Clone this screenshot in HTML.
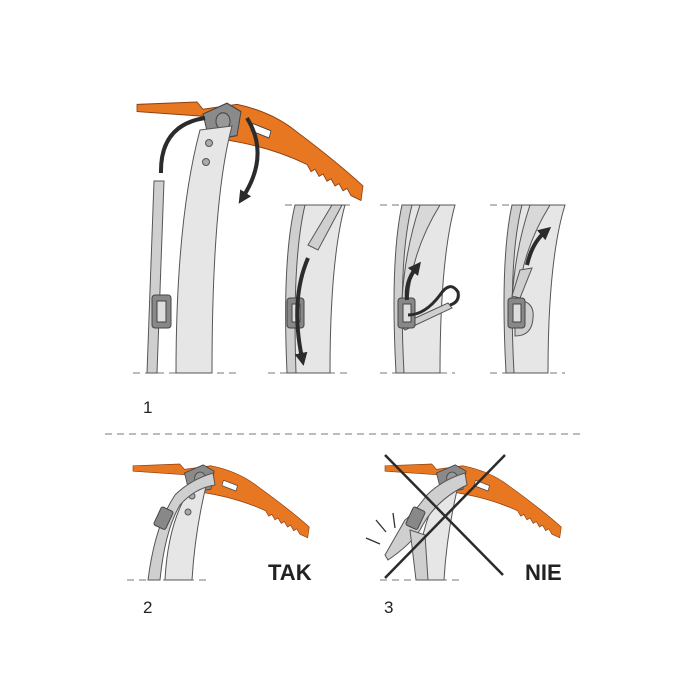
<!DOCTYPE html>
<html><head><style>body{margin:0;background:#fff}svg{display:block}</style></head><body>
<svg width="700" height="700" viewBox="0 0 700 700" xmlns="http://www.w3.org/2000/svg" font-family="Liberation Sans, sans-serif">
<defs>
<marker id="ah" markerWidth="13" markerHeight="13" refX="5" refY="6.5" orient="auto" markerUnits="userSpaceOnUse"><path d="M0,0 L13,6.5 L0,13 Z" fill="#2b2b2b"/></marker>
<g id="axe">
<path d="M0,2 L60,0 L66,6 L100,2 Q135,8 160,25 Q200,50 226,70 L224,82 L214,78 L210,72 L206,74 L202,68 L198,70 L194,64 L190,66 L186,60 L182,62 L178,56 L174,58 L170,52 Q140,40 105,34 L80,30 L68,12 L0,8 Z" fill="#e87722" stroke="#8a3e10" stroke-width="0.8"/>
<path d="M66,10 L90,1 L104,8 L100,28 L80,31 L70,24 Z" fill="#8a8a8a" stroke="#444" stroke-width="1"/>
<circle cx="86" cy="16" r="7" fill="#999" stroke="#444"/>
<path d="M116,18 L134,24 L132,30 L114,24 Z" fill="#fff" stroke="#444" stroke-width="0.8"/>
</g>
</defs>
<g stroke="#777" stroke-width="1" stroke-dasharray="7,5" fill="none">
<line x1="133" y1="373" x2="240" y2="373"/>
<line x1="268" y1="373" x2="348" y2="373"/>
<line x1="380" y1="373" x2="455" y2="373"/>
<line x1="490" y1="373" x2="565" y2="373"/>
<line x1="285" y1="205" x2="350" y2="205"/>
<line x1="380" y1="205" x2="455" y2="205"/>
<line x1="490" y1="205" x2="565" y2="205"/>
<line x1="105" y1="434" x2="585" y2="434"/>
<line x1="127" y1="580" x2="210" y2="580"/>
<line x1="380" y1="580" x2="460" y2="580"/>
</g>
<!-- panel 1 main -->
<use href="#axe" transform="translate(137,102) scale(1.0,1.2)"/>
<path d="M200,130 L232,126 Q212,200 212,373 L176,373 Q176,220 200,130 Z" fill="#e6e6e6" stroke="#555" stroke-width="1"/>
<circle cx="209" cy="143" r="3.5" fill="#aaa" stroke="#555"/><circle cx="206" cy="162" r="3.5" fill="#aaa" stroke="#555"/>
<path d="M154,181 L164,181 L157,373 L147,373 Z" fill="#cfcfcf" stroke="#555"/>
<rect x="152" y="295" width="19" height="33" rx="3" fill="#888" stroke="#444"/><rect x="157" y="301" width="9" height="21" fill="#ddd" stroke="#444"/>
<path d="M161,173 Q160,125 205,118" fill="none" stroke="#2b2b2b" stroke-width="4"/>
<path d="M247,118 Q270,155 243,197" fill="none" stroke="#2b2b2b" stroke-width="4" marker-end="url(#ah)"/>
<!-- sub-panels -->
<g>
<path d="M300,205 L345,205 Q330,260 330,373 L290,373 Q288,270 300,205 Z" fill="#e6e6e6" stroke="#555"/>
<path d="M295,205 L305,205 Q292,260 296,373 L287,373 Q282,260 295,205 Z" fill="#cfcfcf" stroke="#555"/>
<path d="M332,205 L342,205 L318,250 L308,245 Z" fill="#cfcfcf" stroke="#555"/>
<rect x="287" y="298" width="17" height="30" rx="3" fill="#888" stroke="#444"/><rect x="292" y="304" width="8" height="18" fill="#ddd" stroke="#444"/>
<path d="M308,258 Q290,300 302,358" fill="none" stroke="#2b2b2b" stroke-width="4" marker-end="url(#ah)"/>
</g>
<g>
<path d="M405,205 L455,205 Q440,260 440,373 L398,373 Q395,270 405,205 Z" fill="#e6e6e6" stroke="#555"/>
<path d="M402,205 L412,205 Q398,260 404,373 L396,373 Q390,260 402,205 Z" fill="#cfcfcf" stroke="#555"/>
<path d="M420,205 L440,205 Q412,250 408,300 L402,300 Q405,250 420,205 Z" fill="#d8d8d8" stroke="#555"/>
<path d="M400,325 L448,303 L452,308 L405,330 Z" fill="#cfcfcf" stroke="#555"/>
<rect x="398" y="298" width="17" height="30" rx="3" fill="#888" stroke="#444"/><rect x="403" y="304" width="8" height="18" fill="#ddd" stroke="#444"/>
<path d="M408,315 Q425,315 440,295 Q450,280 458,292 Q460,302 450,305" fill="none" stroke="#2b2b2b" stroke-width="3"/>
<path d="M407,300 Q405,282 416,268" fill="none" stroke="#2b2b2b" stroke-width="4" marker-end="url(#ah)"/>
</g>
<g>
<path d="M515,205 L565,205 Q548,260 548,373 L508,373 Q505,270 515,205 Z" fill="#e6e6e6" stroke="#555"/>
<path d="M512,205 L522,205 Q508,260 514,373 L506,373 Q500,260 512,205 Z" fill="#cfcfcf" stroke="#555"/>
<path d="M530,205 L550,205 Q522,250 518,300 L512,300 Q515,250 530,205 Z" fill="#d8d8d8" stroke="#555"/>
<path d="M520,270 L532,268 L520,298 L512,296 Z" fill="#cfcfcf" stroke="#555"/>
<path d="M515,300 Q535,300 533,318 Q532,336 515,336 Z" fill="#cfcfcf" stroke="#555"/>
<rect x="508" y="298" width="17" height="30" rx="3" fill="#888" stroke="#444"/><rect x="513" y="304" width="8" height="18" fill="#ddd" stroke="#444"/>
<path d="M527,265 Q532,243 545,232" fill="none" stroke="#2b2b2b" stroke-width="4" marker-end="url(#ah)"/>
</g>
<text x="143" y="413" font-size="17" fill="#222">1</text>
<!-- panel 2 -->
<use href="#axe" transform="translate(133,464) scale(0.78,0.9)"/>
<path d="M192,486 L207,482 Q195,530 192,580 L165,580 Q168,520 192,486 Z" fill="#e6e6e6" stroke="#555"/>
<circle cx="192" cy="496" r="3" fill="#aaa" stroke="#555"/><circle cx="188" cy="512" r="3" fill="#aaa" stroke="#555"/>
<path d="M213,473 Q190,480 175,495 Q155,525 148,580 L160,580 Q165,530 180,505 Q195,488 215,485 Z" fill="#cfcfcf" stroke="#555"/>
<rect x="157" y="508" width="13" height="20" rx="2" fill="#888" stroke="#444" transform="rotate(25 163 518)"/>
<text x="268" y="580" font-size="22" font-weight="bold" fill="#222">TAK</text>
<text x="143" y="613" font-size="17" fill="#222">2</text>
<!-- panel 3 -->
<use href="#axe" transform="translate(385,464) scale(0.78,0.9)"/>
<path d="M444,486 L459,482 Q447,530 444,580 L417,580 Q420,520 444,486 Z" fill="#e6e6e6" stroke="#555"/>
<path d="M465,473 Q442,480 427,495 Q412,515 405,520 L385,555 L388,560 Q410,545 420,530 Q435,500 467,485 Z" fill="#cfcfcf" stroke="#555"/>
<path d="M410,530 L416,580 L428,580 L425,535 Z" fill="#cfcfcf" stroke="#555"/>
<rect x="409" y="508" width="13" height="20" rx="2" fill="#888" stroke="#444" transform="rotate(25 415 518)"/>
<g stroke="#333" stroke-width="1.3"><line x1="366" y1="538" x2="380" y2="544"/><line x1="376" y1="520" x2="386" y2="532"/><line x1="393" y1="513" x2="395" y2="528"/></g>
<g stroke="#2b2b2b" stroke-width="2.5"><line x1="385" y1="455" x2="503" y2="575"/><line x1="505" y1="455" x2="385" y2="578"/></g>
<text x="525" y="580" font-size="22" font-weight="bold" fill="#222">NIE</text>
<text x="384" y="613" font-size="17" fill="#222">3</text>
</svg>
</body></html>
